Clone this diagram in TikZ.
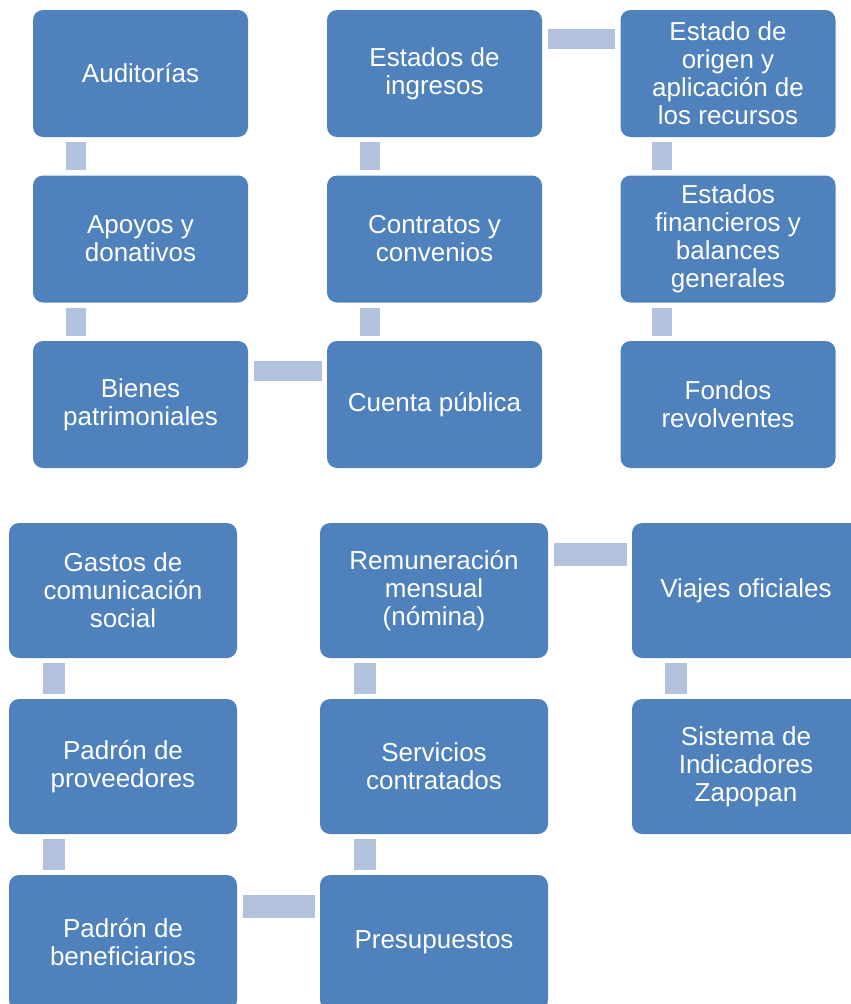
\documentclass[tikz,border=0pt]{standalone}
\usepackage{fontspec}
\setmainfont{Liberation Sans}
\definecolor{boxblue}{RGB}{79,129,189}
\definecolor{barblue}{RGB}{179,194,220}
\tikzset{
  item/.style={fill=boxblue,rounded corners=10pt,text=white,align=center,inner sep=0pt,
    font=\fontsize{26}{28}\selectfont},
  upbox/.style={item,minimum width=215pt,minimum height=127pt},
  lowbox/.style={item,minimum width=228pt,minimum height=135pt},
  vbar/.style={draw=barblue,line width=#1,shorten <=5pt,shorten >=5pt},
  hbar/.style={draw=barblue,line width=#1,shorten <=6pt,shorten >=5pt}
}
\begin{document}
\begin{tikzpicture}[x=1pt,y=-1pt]
\useasboundingbox (0,0) rectangle (851,1004);
\clip (0,0) rectangle (851,1004);
% upper group
\node[upbox] (aud) at (140.5,73.5) {Auditorías};
\node[upbox] (apo) at (140.5,239) {Apoyos y\\donativos};
\node[upbox] (bie) at (140.5,404.5) {Bienes\\patrimoniales};
\node[upbox] (cue) at (434.5,404.5) {Cuenta pública};
\node[upbox] (con) at (434.5,239) {Contratos y\\convenios};
\node[upbox] (ing) at (434.5,73.5) {Estados de\\ingresos};
\node[upbox] (ori) at (728,73.5) {Estado de\\origen y\\aplicación de\\los recursos};
\node[upbox] (fin) at (728,239) {Estados\\financieros y\\balances\\generales};
\node[upbox] (fon) at (728,404.5) {Fondos\\revolventes};
\draw[vbar=20pt] ([xshift=43pt]aud.south west) -- ([xshift=43pt]apo.north west);
\draw[vbar=20pt] ([xshift=43pt]apo.south west) -- ([xshift=43pt]bie.north west);
\draw[hbar=20pt] ([yshift=-30pt]bie.north east) -- ([yshift=-30pt]cue.north west);
\draw[vbar=20pt] ([xshift=43pt]cue.north west) -- ([xshift=43pt]con.south west);
\draw[vbar=20pt] ([xshift=43pt]con.north west) -- ([xshift=43pt]ing.south west);
\draw[hbar=20pt] ([yshift=-29.5pt]ing.north east) -- ([yshift=-29.5pt]ori.north west);
\draw[vbar=20pt] ([xshift=42pt]ori.south west) -- ([xshift=42pt]fin.north west);
\draw[vbar=20pt] ([xshift=42pt]fin.south west) -- ([xshift=42pt]fon.north west);
% lower group
\node[lowbox] (gas) at (123,590.5) {Gastos de\\comunicación\\social};
\node[lowbox] (pro) at (123,766.5) {Padrón de\\proveedores};
\node[lowbox] (ben) at (123,942.5) {Padrón de\\beneficiarios};
\node[lowbox] (pre) at (434,942.5) {Presupuestos};
\node[lowbox] (ser) at (434,766.5) {Servicios\\contratados};
\node[lowbox] (rem) at (434,590.5) {Remuneración\\mensual\\(nómina)};
\node[lowbox] (via) at (746,590.5) {Viajes oficiales};
\node[lowbox] (sis) at (746,766.5) {Sistema de\\Indicadores\\Zapopan};
\draw[vbar=22pt] ([xshift=45pt]gas.south west) -- ([xshift=45pt]pro.north west);
\draw[vbar=22pt] ([xshift=45pt]pro.south west) -- ([xshift=45pt]ben.north west);
\draw[hbar=23pt] ([yshift=-31.5pt]ben.north east) -- ([yshift=-31.5pt]pre.north west);
\draw[vbar=22pt] ([xshift=45pt]pre.north west) -- ([xshift=45pt]ser.south west);
\draw[vbar=22pt] ([xshift=45pt]ser.north west) -- ([xshift=45pt]rem.south west);
\draw[hbar=23pt] ([yshift=-31.5pt]rem.north east) -- ([yshift=-31.5pt]via.north west);
\draw[vbar=22pt] ([xshift=44pt]via.south west) -- ([xshift=44pt]sis.north west);
\end{tikzpicture}
\end{document}
